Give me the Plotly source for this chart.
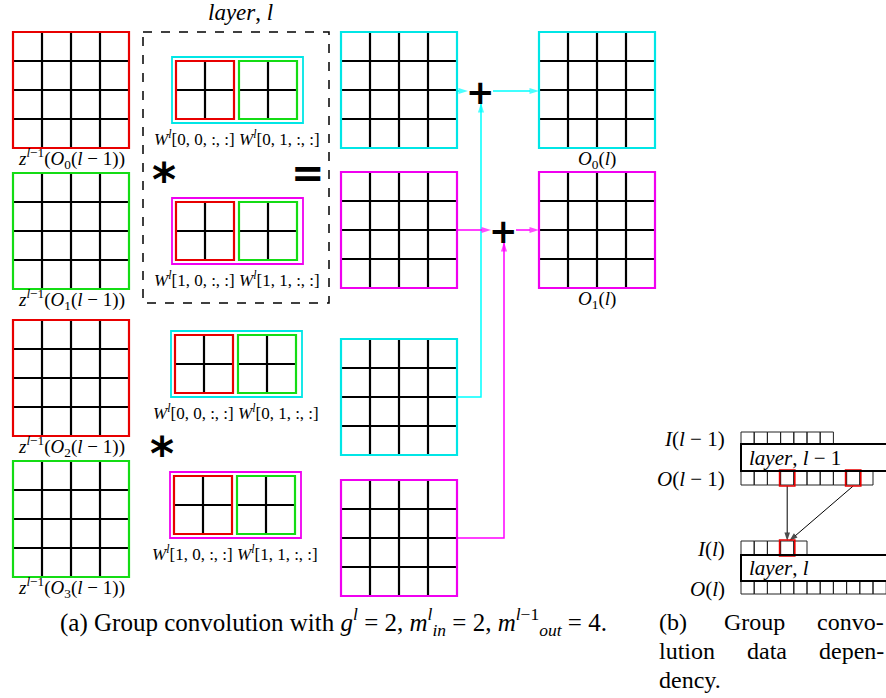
import plotly.graph_objects as go

# ---------------- diagram content ----------------
input_labels = [
    "<i>z</i><sup><i>l</i>−1</sup>(<i>O</i><sub>0</sub>(<i>l</i> − 1))",
    "<i>z</i><sup><i>l</i>−1</sup>(<i>O</i><sub>1</sub>(<i>l</i> − 1))",
    "<i>z</i><sup><i>l</i>−1</sup>(<i>O</i><sub>2</sub>(<i>l</i> − 1))",
    "<i>z</i><sup><i>l</i>−1</sup>(<i>O</i><sub>3</sub>(<i>l</i> − 1))",
]
input_channel = ["red", "green", "red", "green"]
kernel_labels = [
    ["<i>W</i><sup><i>l</i></sup>[0, 0, :, :]", "<i>W</i><sup><i>l</i></sup>[0, 1, :, :]"],
    ["<i>W</i><sup><i>l</i></sup>[1, 0, :, :]", "<i>W</i><sup><i>l</i></sup>[1, 1, :, :]"],
]
kernel_channel = ["red", "green"]
filter_colors = ["cyan", "magenta"]
output_labels = ["<i>O</i><sub>0</sub>(<i>l</i>)", "<i>O</i><sub>1</sub>(<i>l</i>)"]
layer_title = "<i>layer</i>, <i>l</i>"
feature_cells = 4
kernel_cells = 2

dep_row_labels = ["<i>I</i>(<i>l</i> − 1)", "<i>O</i>(<i>l</i> − 1)",
                  "<i>I</i>(<i>l</i>)", "<i>O</i>(<i>l</i>)"]
dep_layer_labels = ["<i>layer</i>, <i>l</i> − 1", "<i>layer</i>, <i>l</i>"]
prev_in_cells, prev_out_cells = 7, 10
cur_in_cells, cur_out_cells = 5, 11
prev_out_selected = [3, 8]
cur_in_selected = [3]

caption_a = ("(a) Group convolution with <i>g</i><sup><i>l</i></sup> = 2, "
             "<i>m</i><sup><i>l</i></sup><sub><i>in</i></sub> = 2, "
             "<i>m</i><sup><i>l</i>−1</sup><sub><i>out</i></sub> = 4.")
caption_b_lines = [["(b)", "Group", "convo-"], ["lution", "data", "depen-"], ["dency."]]

# ---------------- styles ----------------
COL = {"red": "#e80000", "green": "#14dc14", "cyan": "#00e6e6", "magenta": "#f000f0"}
ARROW_COL = {"cyan": "#00ffff", "magenta": "#ff00ff"}
SERIF = "Liberation Serif"
SANS = "DejaVu Sans"

shapes = []
annotations = []
traces = []


def line(x0, y0, x1, y1, color="black", width=2, dash=None):
    shapes.append(dict(type="line", xref="x", yref="y", x0=x0, y0=y0, x1=x1, y1=y1,
                       line=dict(color=color, width=width, dash=dash)))


def rect(x0, y0, x1, y1, color="black", width=2, dash=None):
    shapes.append(dict(type="rect", xref="x", yref="y", x0=x0, y0=y0, x1=x1, y1=y1,
                       line=dict(color=color, width=width, dash=dash),
                       fillcolor="rgba(0,0,0,0)"))


def grid(x0, y0, w, h, nx, ny, color, border=2.2, inner=2.2):
    for i in range(1, nx):
        xx = x0 + w * i / nx
        line(xx, y0, xx, y0 + h, "black", inner)
    for j in range(1, ny):
        yy = y0 + h * j / ny
        line(x0, yy, x0 + w, yy, "black", inner)
    rect(x0, y0, x0 + w, y0 + h, color, border)


def text(x, y, s, size=15, family=SERIF, xanchor="center", color="black", bold=False):
    annotations.append(dict(x=x, y=y, xref="x", yref="y", text=s, showarrow=False,
                            xanchor=xanchor, yanchor="middle",
                            font=dict(family=family, size=size, color=color,
                                      weight="bold" if bold else "normal")))


def arrow(xs, ys, color, width=1.5, head=10):
    """Polyline through (xs, ys) ending with an arrow head at the last point."""
    n = len(xs)
    traces.append(go.Scatter(
        x=xs, y=ys, mode="lines+markers", hoverinfo="skip",
        line=dict(color=color, width=width),
        marker=dict(symbol="arrow", size=[0] * (n - 1) + [head], angleref="previous",
                    color=color, line=dict(width=0)),
    ))


# ---------------- (a) group convolution ----------------
FS = 116
in_x, in_y = 13, [32, 173, 320, 461]
mid_x, mid_y = 341, [32, 172, 339, 480]
out_x, out_y = 539, [32, 172]

for k, lab in enumerate(input_labels):
    grid(in_x, in_y[k], FS, FS, feature_cells, feature_cells, COL[input_channel[k]])
    text(in_x + FS / 2, in_y[k] + FS + 10, lab, size=19)

# kernels: two groups (top inside the layer box, bottom outside), two filters each
kernel_boxes = [[(172, 57), (172, 198)], [(171, 331), (170, 472)]]
KW, KH = 131, 66
for g in range(2):
    for f in range(2):
        bx, by = kernel_boxes[g][f]
        rect(bx, by, bx + KW, by + KH, COL[filter_colors[f]], 1.8)
        for c in range(2):
            cx = bx + 4 + c * 63
            grid(cx, by + 4, 58, KH - 8, kernel_cells, kernel_cells,
                 COL[kernel_channel[c]], 2.2, 2.2)
        mid = bx + 65
        text(mid, by + KH + 15, kernel_labels[f][0], size=17, xanchor="right")
        text(mid, by + KH + 15, kernel_labels[f][1], size=17, xanchor="left")

# layer box
rect(143, 32, 329, 303, "black", 1.5, "dash")
text(240, 12, layer_title, size=23)

# operators
text(164, 180, "*", size=46, family=SANS, bold=True)
text(308, 173, "=", size=40, family=SANS, bold=True)
text(162, 454, "*", size=46, family=SANS, bold=True)

# partial results
for k in range(4):
    grid(mid_x, mid_y[k], FS, FS, feature_cells, feature_cells, COL[filter_colors[k % 2]])

# outputs
for k, lab in enumerate(output_labels):
    grid(out_x, out_y[k], FS, FS, feature_cells, feature_cells, COL[filter_colors[k]])
    text(out_x + FS / 2, out_y[k] + FS + 12, lab, size=19)

# summation nodes and data flow
sum_nodes = [(480, 91), (503, 230)]
for k, (sx, sy) in enumerate(sum_nodes):
    text(sx, sy + 1, "+", size=34, family=SANS, bold=True)
    c = ARROW_COL[filter_colors[k]]
    arrow([mid_x + FS, sx - 12], [sy, sy], c)
    arrow([sx + 13, out_x], [sy, sy], c)
    low_y = mid_y[k + 2] + FS / 2
    arrow([mid_x + FS, sx + 1, sx + 1], [low_y, low_y, sy + 12], c)

# ---------------- (b) data dependency ----------------
bx0, cw = 741, 13.2
rows = {"prev_in": (432, 444), "prev_layer": (444, 471), "prev_out": (471, 485),
        "cur_in": (541, 555), "cur_layer": (555, 581), "cur_out": (581, 594)}


def cell_row(n, y0, y1, selected=()):
    for i in range(n):
        rect(bx0 + i * cw, y0, bx0 + (i + 1) * cw, y1, "#222222", 1)
    for i in selected:
        rect(bx0 + i * cw - 1, y0 - 1, bx0 + (i + 1) * cw + 1, y1 + 1, COL["red"], 1.6)


cell_row(prev_in_cells, *rows["prev_in"])
cell_row(prev_out_cells, *rows["prev_out"], prev_out_selected)
cell_row(cur_in_cells, *rows["cur_in"], cur_in_selected)
cell_row(cur_out_cells, *rows["cur_out"])
rect(bx0, rows["prev_layer"][0], 892, rows["prev_layer"][1], "black", 2)
rect(bx0, rows["cur_layer"][0], 892, rows["cur_layer"][1], "black", 2)
text(bx0 + 6, sum(rows["prev_layer"]) / 2, dep_layer_labels[0], size=21, xanchor="left")
text(bx0 + 6, sum(rows["cur_layer"]) / 2, dep_layer_labels[1], size=21, xanchor="left")
for lab, key in zip(dep_row_labels, ["prev_in", "prev_out", "cur_in", "cur_out"]):
    text(727, sum(rows[key]) / 2 + 1, lab, size=21, xanchor="right")

tgt = cur_in_selected[0]
tx = bx0 + (tgt + 0.5) * cw
for s in prev_out_selected:
    sx = bx0 + (s + 0.5) * cw
    arrow([sx, tx + (0 if sx == tx else 2)], [rows["prev_out"][1] + 1, rows["cur_in"][0]],
          "black", 1, 9)

# ---------------- captions ----------------
text(333, 622, caption_a, size=25)
cap_b_x = [[657, 754, 886], [657, 767, 886], [657]]
cap_b_anchor = [["left", "center", "right"], ["left", "center", "right"], ["left"]]
for li, words in enumerate(caption_b_lines):
    for wi, w in enumerate(words):
        text(cap_b_x[li][wi], 622 + 29 * li, w, size=24, xanchor=cap_b_anchor[li][wi])

fig = go.Figure(data=traces)
fig.update_layout(
    width=886, height=698, margin=dict(l=0, r=0, t=0, b=0),
    paper_bgcolor="white", plot_bgcolor="white",
    font=dict(family=SERIF, size=19, color="black"),
    xaxis=dict(range=[0, 886], visible=False, fixedrange=True),
    yaxis=dict(range=[698, 0], visible=False, fixedrange=True),
    shapes=shapes, annotations=annotations, showlegend=False,
)
fig.write_html("out.html")
